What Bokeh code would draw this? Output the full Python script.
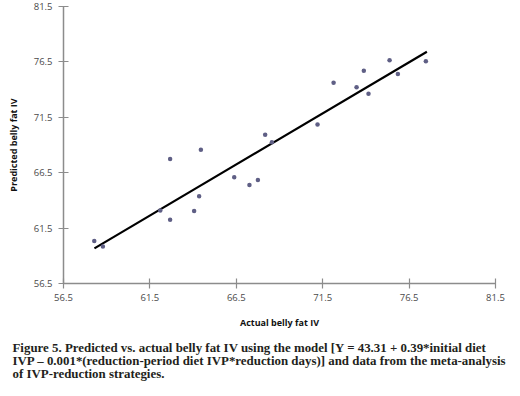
from bokeh.plotting import figure
from bokeh.models import FixedTicker, Range1d, Title
from bokeh.embed import file_html
from bokeh.resources import INLINE

# Data
actual = [58.28, 58.78, 62.10, 62.67, 62.67, 64.06, 64.35, 64.45, 66.38, 67.26, 67.75,
          68.17, 68.56, 71.20, 72.13, 73.46, 73.88, 74.15, 75.37, 75.85, 77.47]
predicted = [60.33, 59.85, 63.08, 67.73, 62.26, 63.05, 64.38, 68.57, 66.10, 65.38, 65.83,
             69.93, 69.24, 70.84, 74.62, 74.22, 75.70, 73.62, 76.66, 75.40, 76.55]
fit_x = [58.29, 77.53]
fit_y = [59.67, 77.42]
ticks = [56.5, 61.5, 66.5, 71.5, 76.5, 81.5]
x_label = "Actual belly fat IV"
y_label = "Predicted belly fat IV"
caption = [
    "Figure 5. Predicted vs. actual belly fat IV using the model [Y = 43.31 + 0.39*initial diet",
    "IVP \u2013 0.001*(reduction-period diet IVP*reduction days)] and data from the meta-analysis",
    "of IVP-reduction strategies.",
]

p = figure(width=512, height=388, output_backend="svg", toolbar_location=None,
           x_range=Range1d(56.5, 81.5), y_range=Range1d(56.5, 81.5),
           min_border_left=63, min_border_right=17, min_border_top=6, min_border_bottom=0)
p.outline_line_color = None
p.xgrid.visible = False
p.ygrid.visible = False

for ax in (p.xaxis, p.yaxis):
    ax.ticker = FixedTicker(ticks=ticks)
    ax.minor_tick_line_color = None
    ax.axis_line_color = "#8c8c8c"
    ax.axis_line_width = 1.5
    ax.major_tick_line_color = "#8c8c8c"
    ax.major_tick_line_width = 1.2
    ax.major_tick_in = 5
    ax.major_tick_out = 5
    ax.major_label_text_font = "Open Sans"
    ax.major_label_text_font_size = "9.5px"
    ax.major_label_text_color = "#4a4a4a"
    ax.axis_label_text_font = "Open Sans"
    ax.axis_label_text_font_size = "9px"
    ax.axis_label_text_font_style = "bold"
    ax.axis_label_text_color = "#111111"

p.xaxis.major_label_overrides = {t: f"{t:.1f}" for t in ticks}
p.yaxis.major_label_overrides = {t: f"{t:.1f}" for t in ticks}
p.xaxis.axis_label = x_label
p.yaxis.axis_label = y_label
p.xaxis.major_label_standoff = 5
p.yaxis.major_label_standoff = 6
p.xaxis.axis_label_standoff = 12
p.yaxis.axis_label_standoff = 11

p.line(fit_x, fit_y, line_color="black", line_width=2.2)
p.scatter(actual, predicted, size=4.5, fill_color="#5f5f85", line_color=None)

t = Title(text="\n".join(caption), align="left", offset=-51, text_font="Liberation Serif",
          text_font_style="bold", text_font_size="12.9px", text_color="#231f20",
          text_line_height=0.92, standoff=15)
p.add_layout(t, "below")

open("out.html", "w").write(file_html(p, INLINE))
